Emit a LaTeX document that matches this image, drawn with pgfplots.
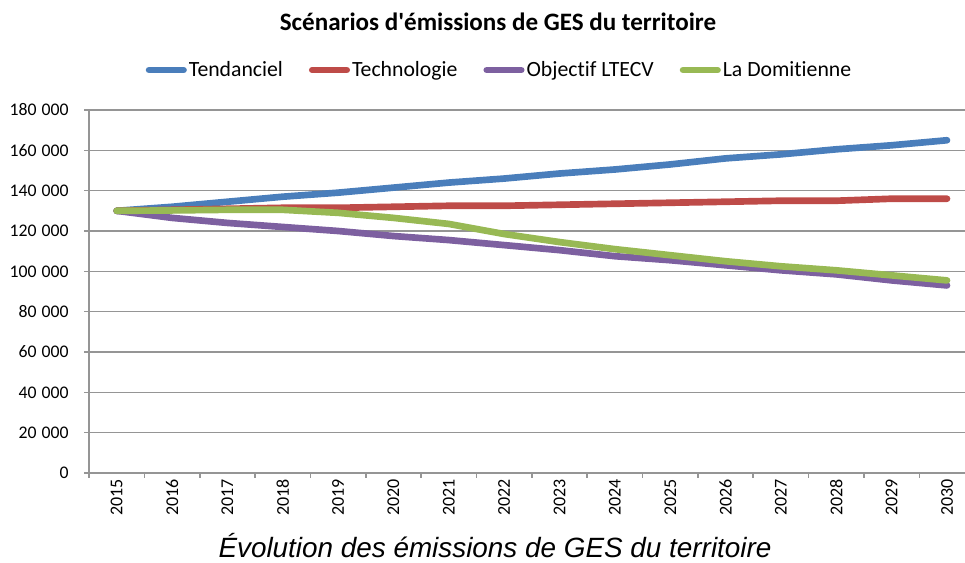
\documentclass[border=0pt]{standalone}
\usepackage{fontspec}
\setmainfont{Carlito}[Ligatures=NoCommon]
\newfontfamily\arialfont{Liberation Sans}
\usepackage{pgfplots}
\pgfplotsset{compat=1.18}
\definecolor{cBlue}{HTML}{4A7EBB}
\definecolor{cRed}{HTML}{BE4B48}
\definecolor{cPurple}{HTML}{7D60A0}
\definecolor{cGreen}{HTML}{98B954}
\definecolor{cGrid}{HTML}{959595}
\begin{document}
\begin{tikzpicture}
\useasboundingbox (0,0) rectangle (723.75pt,422.25pt);
\begin{axis}[
  at={(66.75pt,67.5pt)}, anchor=south west,
  scale only axis, width=657pt, height=272.25pt,
  xmin=2014.5, xmax=2030.325, ymin=0, ymax=180000,
  scaled y ticks=false,
  axis x line=bottom, axis y line=left,
  axis line style={draw=cGrid, line width=1.2pt, -},
  tick align=outside, major tick length=3.75pt,
  tick style={cGrid, line width=1.2pt},
  ytick={0,20000,40000,60000,80000,100000,120000,140000,160000,180000},
  yticklabels={0,20\hspace{0.28em}000,40\hspace{0.28em}000,60\hspace{0.28em}000,80\hspace{0.28em}000,100\hspace{0.28em}000,120\hspace{0.28em}000,140\hspace{0.28em}000,160\hspace{0.28em}000,180\hspace{0.28em}000},
  ymajorgrids, grid style={cGrid, line width=1.2pt},
  yticklabel style={font=\fontsize{13.3}{15}\selectfont, anchor=east, xshift=-8pt},
  xtick={2014.5,2015.5,...,2029.5}, xticklabels={},
  extra x ticks={2015,2016,2017,2018,2019,2020,2021,2022,2023,2024,2025,2026,2027,2028,2029,2030},
  extra x tick labels={2015,2016,2017,2018,2019,2020,2021,2022,2023,2024,2025,2026,2027,2028,2029,2030},
  extra x tick style={major tick length=0pt, grid=none,
    xticklabel style={rotate=90, anchor=east, font=\fontsize{13.5}{15}\selectfont, xshift=-1pt}},
  legend style={at={(0.4686,1.110)}, anchor=center, draw=none, legend columns=4,
    font=\fontsize{16.3}{19}\selectfont,
    /tikz/every even column/.append style={column sep=18pt},
    nodes={inner sep=1.5pt}},
  legend image code/.code={\draw[#1, line width=4.8pt, line cap=round] (0pt,0pt) -- (26pt,0pt);},
  every axis plot/.append style={line width=5pt, line cap=round, line join=round},
]
\addplot[cBlue] coordinates {(2015,130000)(2016,132000)(2017,134500)(2018,137000)(2019,139000)(2020,141500)(2021,144000)(2022,146000)(2023,148500)(2024,150500)(2025,153000)(2026,156000)(2027,158000)(2028,160500)(2029,162500)(2030,165000)};
\addlegendentry{Tendanciel}
\addplot[cRed] coordinates {(2015,130000)(2016,130500)(2017,131000)(2018,131500)(2019,131500)(2020,132000)(2021,132500)(2022,132500)(2023,133000)(2024,133500)(2025,134000)(2026,134500)(2027,135000)(2028,135000)(2029,136000)(2030,136000)};
\addlegendentry{Technologie}
\addplot[cPurple] coordinates {(2015,130000)(2016,126500)(2017,124000)(2018,122000)(2019,120000)(2020,117500)(2021,115500)(2022,113000)(2023,110500)(2024,107500)(2025,105500)(2026,103000)(2027,100500)(2028,98500)(2029,95500)(2030,93000)};
\addlegendentry{Objectif LTECV}
\addplot[cGreen] coordinates {(2015,130000)(2016,130200)(2017,130500)(2018,130500)(2019,129000)(2020,126500)(2021,123500)(2022,118500)(2023,114500)(2024,111000)(2025,108000)(2026,105000)(2027,102500)(2028,100500)(2029,98000)(2030,95500)};
\addlegendentry{La Domitienne}
\end{axis}
\node[font=\bfseries\fontsize{18.8}{22}\selectfont] at (373.5pt,405.75pt) {Scénarios d\textquotesingle émissions de GES du territoire};
\node[font=\arialfont\itshape\fontsize{20.9}{24}\selectfont, anchor=base] at (371.25pt,3.75pt) {Évolution des émissions de GES du territoire};
\end{tikzpicture}
\end{document}
